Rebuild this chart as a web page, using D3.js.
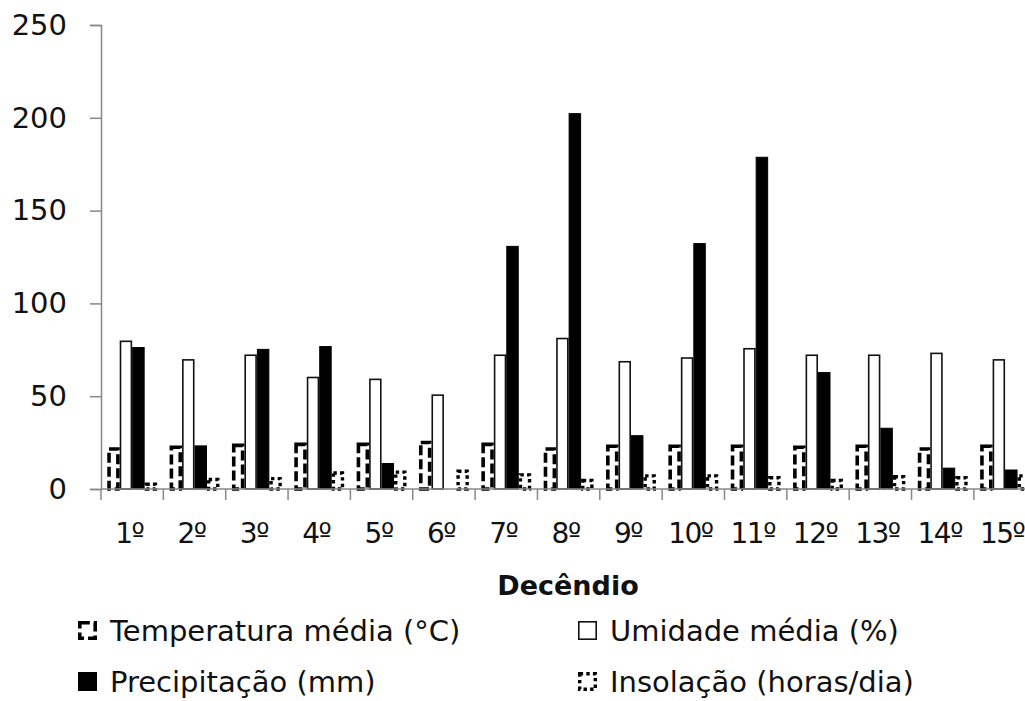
<!DOCTYPE html>
<html>
<head>
<meta charset="utf-8">
<script src="https://cdn.jsdelivr.net/npm/d3@7"></script>
<style>
  html, body { margin: 0; padding: 0; background: #fff; overflow: hidden; }
  svg { display: block; }
  text { font-family: "DejaVu Sans", sans-serif; fill: #111; }
</style>
</head>
<body>
<svg id="chart" width="1025" height="701"></svg>
<script>
// Ten-day periods (decêndios)
const categories = ["1º","2º","3º","4º","5º","6º","7º","8º","9º","10º","11º","12º","13º","14º","15º"];
const seriesNames = ["Temperatura média (°C)", "Umidade média (%)", "Precipitação (mm)", "Insolação (horas/dia)"];
const temperatura = [22.5, 23.5, 24.5, 25, 25, 26, 25, 22.5, 24, 24, 24, 23.5, 24, 22.5, 24];
const umidade     = [80, 70, 72.5, 60.5, 59.5, 51, 72.5, 81.5, 69, 71, 76, 72.5, 72.5, 73.5, 70];
const precipitacao = [76.5, 23.5, 75.5, 77, 14, 0, 131, 202.5, 29, 132.5, 179, 63, 33, 11.5, 10.5];
const insolacao   = [3.5, 6, 6.5, 9.5, 10, 10.5, 8.5, 5.5, 8, 8, 7, 5.5, 7.5, 7, 8];
const yTicks = [0, 50, 100, 150, 200, 250];

const series = [temperatura, umidade, precipitacao, insolacao];

const svg = d3.select("#chart");
const x0 = 101, stepW = 62.35;
const y = d3.scaleLinear().domain([0, 250]).range([489, 25]);
const x = d3.scaleBand().domain(categories)
  .range([x0, x0 + stepW * categories.length]).paddingInner(0).paddingOuter(0);
const xs = d3.scaleBand().domain(d3.range(series.length))
  .range([0, x.bandwidth()]).paddingInner(0).paddingOuter(0.5);

const axisColor = "#888";

// Bar styles per series
const styles = [
  { fill: "#fff", stroke: "#000", sw: 3.6, dash: "10,4" },    // temperature: dashed outline
  { fill: "#fff", stroke: "#111", sw: 1.6, dash: null },      // humidity: plain outline
  { fill: "#000", stroke: "#000", sw: 1, dash: null },        // precipitation: solid
  { fill: "#fff", stroke: "#000", sw: 3.4, dash: "3.4,3.2" }  // sunshine: dotted outline
];

const g = svg.append("g");
series.forEach((vals, si) => {
  const st = styles[si];
  const inset = st.sw / 2;
  g.selectAll(null).data(vals).enter().append("rect")
    .attr("x", (d, i) => x(categories[i]) + xs(si) + inset)
    .attr("y", d => y(d) + inset)
    .attr("width", xs.bandwidth() - 2 * inset)
    .attr("height", d => Math.max(0, y(0) - y(d) - inset))
    .attr("fill", st.fill)
    .attr("stroke", d => d > 0 ? st.stroke : "none")
    .attr("stroke-width", st.sw)
    .attr("stroke-dasharray", st.dash);
});

// Y axis
const yAxis = d3.axisLeft(y).tickValues(yTicks).tickSize(11).tickPadding(23);
const gy = svg.append("g").attr("transform", `translate(${x0},0)`).call(yAxis);
gy.select(".domain").attr("stroke", axisColor).attr("stroke-width", 1.5);
gy.selectAll(".tick line").attr("stroke", axisColor).attr("stroke-width", 1.5);
gy.selectAll(".tick text").attr("font-size", 29).attr("font-family", "DejaVu Sans").attr("fill", "#111");

// X axis, ticks at the category boundaries
const gx = svg.append("g").attr("transform", `translate(0,${y(0)})`);
gx.append("line").attr("x1", x0).attr("x2", 1025).attr("y1", 0).attr("y2", 0)
  .attr("stroke", axisColor).attr("stroke-width", 1.5);
gx.selectAll("line.tk").data(d3.range(categories.length + 1)).enter().append("line")
  .attr("class", "tk")
  .attr("x1", i => x0 + i * x.step()).attr("x2", i => x0 + i * x.step())
  .attr("y1", 0).attr("y2", 11)
  .attr("stroke", axisColor).attr("stroke-width", 1.5);
gx.selectAll("text").data(categories).enter().append("text")
  .attr("x", d => x(d) + x.bandwidth() / 2 - 3)
  .attr("y", 54)
  .attr("text-anchor", "middle")
  .attr("font-size", 28)
  .attr("letter-spacing", -1.5)
  .text(d => d);

// Axis title
svg.append("text")
  .attr("x", 568).attr("y", 595)
  .attr("text-anchor", "middle")
  .attr("font-size", 27).attr("font-weight", "bold")
  .text("Decêndio");

// Legend
const legendPos = [
  { mx: 78, tx: 110, base: 641 },
  { mx: 578, tx: 610, base: 641 },
  { mx: 78, tx: 110, base: 692 },
  { mx: 578, tx: 610, base: 692 }
];
const lg = svg.append("g");
seriesNames.forEach((name, si) => {
  const p = legendPos[si], st = styles[si];
  const s = 19, inset = st.sw / 2;
  lg.append("rect")
    .attr("x", p.mx + inset).attr("y", p.base - 20 + inset)
    .attr("width", s - 2 * inset).attr("height", s - 2 * inset)
    .attr("fill", st.fill).attr("stroke", st.stroke)
    .attr("stroke-width", st.sw).attr("stroke-dasharray", st.dash);
  lg.append("text")
    .attr("x", p.tx).attr("y", p.base)
    .attr("font-size", 29)
    .text(name);
});
</script>
</body>
</html>
